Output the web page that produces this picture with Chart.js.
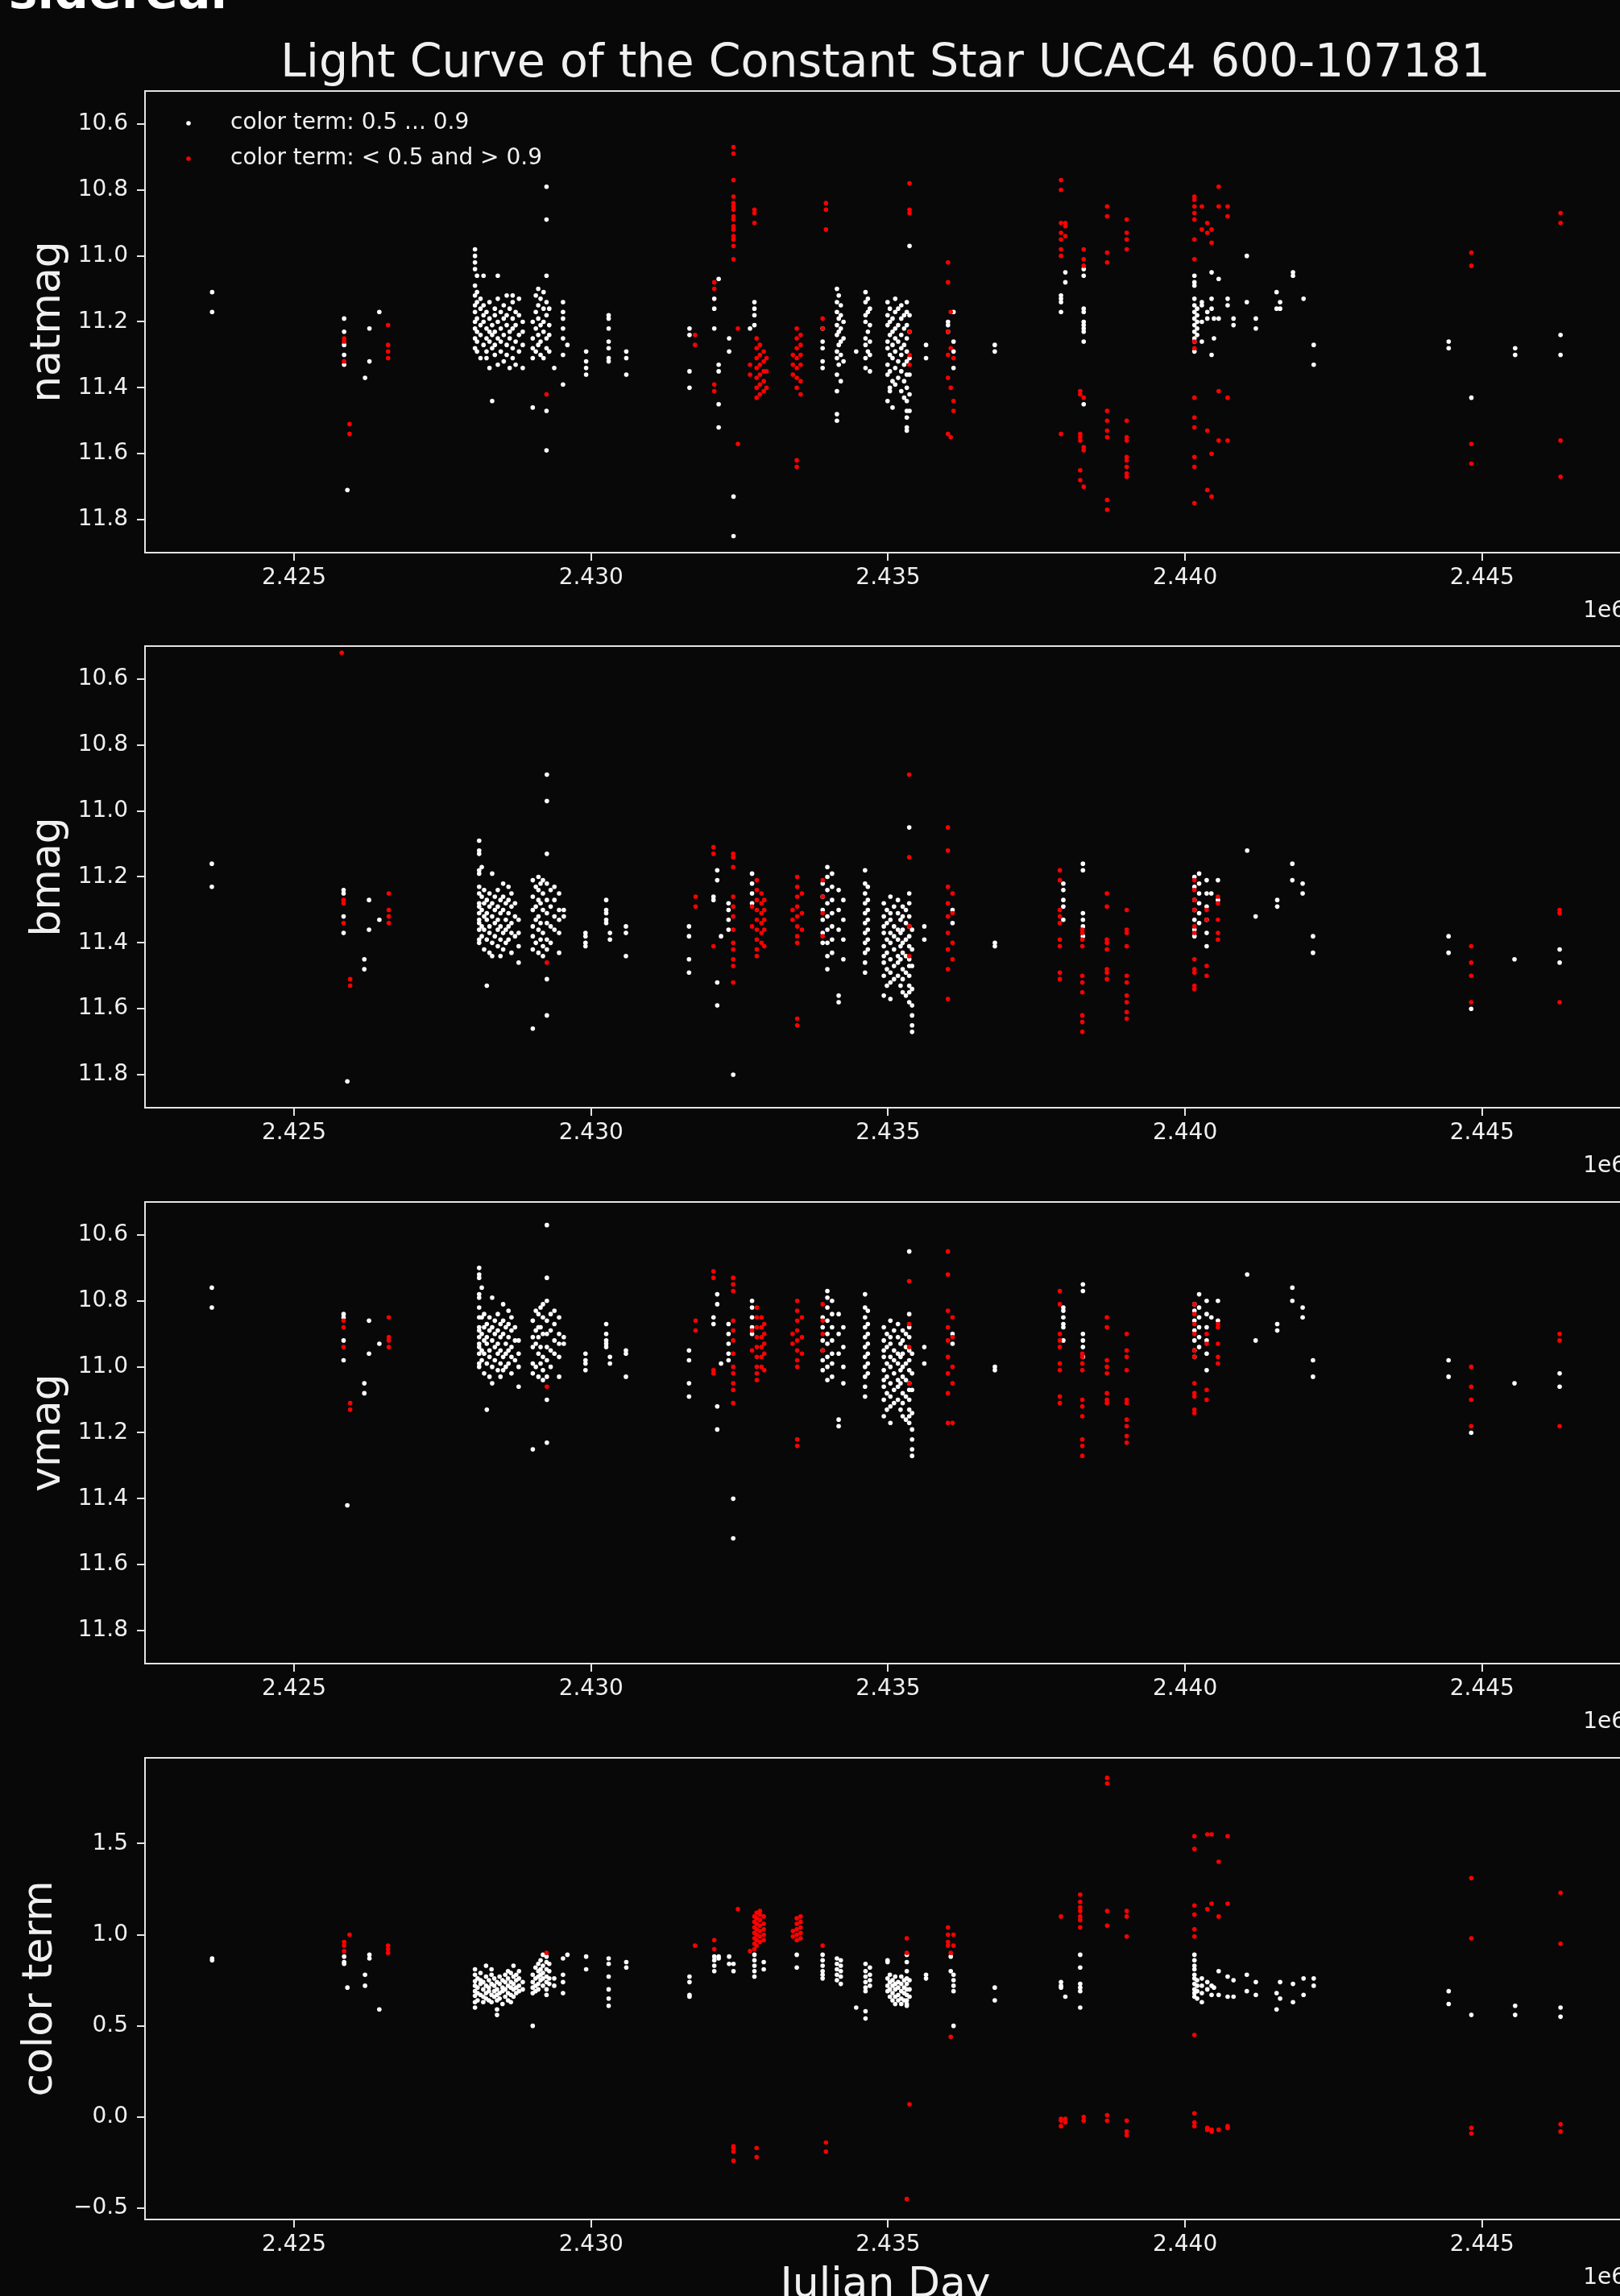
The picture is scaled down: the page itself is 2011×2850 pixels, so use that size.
<!DOCTYPE html>
<html>
<head>
<meta charset="utf-8">
<title>Light Curve of the Constant Star UCAC4 600-107181</title>
<script src="https://cdn.jsdelivr.net/npm/chart.js@4.4.1/dist/chart.umd.min.js"></script>
<style>
  html, body { margin: 0; padding: 0; background: #080808; overflow: hidden; }
  body { width: 2011px; height: 2850px; position: relative; }
  canvas { position: absolute; left: 0; }
</style>
</head>
<body>
<canvas id="natmagChart" width="2040" height="796" style="top:0px"></canvas>
<canvas id="bmagChart" width="2040" height="723" style="top:762px"></canvas>
<canvas id="vmagChart" width="2040" height="723" style="top:1452px"></canvas>
<canvas id="colorChart" width="2040" height="723" style="top:2142px"></canvas>
<script>
// axis limits and ticks
const jdMin = 2422491, jdMax = 2447416;
const jdTicks = [2425000, 2430000, 2435000, 2440000, 2445000];
const magTicks = [10.6, 10.8, 11.0, 11.2, 11.4, 11.6, 11.8];
const colorTicks = [-0.5, 0.0, 0.5, 1.0, 1.5];

// every entry: [julian day, [values seen around that date]]
const natmagWhite = [
  [2423621, [11.11, 11.17]],
  [2425843, [11.19, 11.23, 11.27, 11.30, 11.33]],
  [2425898, [11.71]],
  [2426195, [11.37]],
  [2426269, [11.22, 11.32]],
  [2426435, [11.17]],
  [2428046, [10.98, 11.00, 11.02, 11.04, 11.09, 11.12, 11.15, 11.17, 11.20, 11.22, 11.25, 11.28]],
  [2428080, [11.06, 11.11, 11.14, 11.19, 11.23, 11.26, 11.29]],
  [2428139, [11.13, 11.16, 11.21, 11.24, 11.31]],
  [2428190, [11.06, 11.15, 11.18, 11.20, 11.27]],
  [2428240, [11.17, 11.22, 11.25, 11.29, 11.31]],
  [2428290, [11.14, 11.19, 11.23, 11.26, 11.34]],
  [2428335, [11.21, 11.24, 11.28, 11.44]],
  [2428380, [11.16, 11.18, 11.23, 11.27, 11.30]],
  [2428430, [11.06, 11.13, 11.20, 11.25, 11.33]],
  [2428480, [11.17, 11.22, 11.26, 11.29]],
  [2428530, [11.15, 11.19, 11.24, 11.32]],
  [2428580, [11.12, 11.18, 11.21, 11.27, 11.30]],
  [2428630, [11.16, 11.23, 11.25, 11.34]],
  [2428680, [11.12, 11.14, 11.19, 11.22, 11.28, 11.31]],
  [2428730, [11.17, 11.21, 11.26, 11.33]],
  [2428787, [11.13, 11.18, 11.24, 11.29]],
  [2428850, [11.20, 11.23, 11.27, 11.34]],
  [2429018, [11.20, 11.25, 11.28, 11.31, 11.46]],
  [2429070, [11.12, 11.17, 11.22, 11.29]],
  [2429111, [11.10, 11.15, 11.19, 11.24, 11.27]],
  [2429150, [11.13, 11.21, 11.26, 11.30]],
  [2429200, [11.11, 11.16, 11.20, 11.23, 11.31]],
  [2429250, [10.79, 10.89, 11.06, 11.14, 11.18, 11.25, 11.28, 11.47, 11.59]],
  [2429296, [11.16, 11.21, 11.24, 11.29]],
  [2429380, [11.34]],
  [2429528, [11.14, 11.17, 11.19, 11.22, 11.25, 11.30, 11.39]],
  [2429602, [11.27]],
  [2429917, [11.29, 11.32, 11.34, 11.36]],
  [2430296, [11.18, 11.19, 11.22, 11.26, 11.28, 11.31, 11.32]],
  [2430593, [11.29, 11.31, 11.36]],
  [2431657, [11.22, 11.24, 11.35, 11.40]],
  [2432074, [11.13, 11.16, 11.22]],
  [2432148, [11.07, 11.33, 11.35, 11.45, 11.52]],
  [2432324, [11.25, 11.29]],
  [2432398, [11.73, 11.85]],
  [2432676, [11.22]],
  [2432750, [11.14, 11.16, 11.18, 11.21]],
  [2433898, [11.22, 11.26, 11.28, 11.32, 11.34]],
  [2434139, [11.10, 11.14, 11.17, 11.21, 11.24, 11.29, 11.31, 11.36, 11.41, 11.48, 11.50]],
  [2434170, [11.12, 11.19, 11.23, 11.27, 11.33]],
  [2434204, [11.15, 11.18, 11.22, 11.26, 11.30, 11.38]],
  [2434250, [11.20, 11.25, 11.32]],
  [2434463, [11.29]],
  [2434620, [11.11, 11.14, 11.18, 11.20, 11.25, 11.27, 11.31, 11.34]],
  [2434660, [11.13, 11.17, 11.23, 11.29]],
  [2434694, [11.16, 11.21, 11.26, 11.30, 11.35]],
  [2434991, [11.14, 11.18, 11.21, 11.26, 11.28, 11.33, 11.36, 11.44]],
  [2435030, [11.16, 11.20, 11.24, 11.30, 11.35, 11.40, 11.41]],
  [2435075, [11.19, 11.23, 11.27, 11.31, 11.38, 11.46]],
  [2435120, [11.13, 11.17, 11.22, 11.25, 11.29, 11.34, 11.39]],
  [2435170, [11.16, 11.21, 11.26, 11.32, 11.37]],
  [2435222, [11.15, 11.19, 11.24, 11.28, 11.30, 11.35, 11.41]],
  [2435270, [11.18, 11.22, 11.27, 11.33, 11.38, 11.43]],
  [2435315, [11.14, 11.17, 11.21, 11.25, 11.29, 11.32, 11.36, 11.40, 11.44, 11.47, 11.49, 11.52, 11.53]],
  [2435361, [10.97, 11.18, 11.23, 11.31, 11.36, 11.42, 11.47]],
  [2435639, [11.27, 11.31]],
  [2436009, [11.20, 11.21, 11.23]],
  [2436102, [11.17, 11.26, 11.29, 11.34]],
  [2436796, [11.27, 11.29]],
  [2437911, [11.12, 11.13, 11.14, 11.17]],
  [2437984, [11.05, 11.08]],
  [2438293, [11.04, 11.06, 11.16, 11.17, 11.20, 11.21, 11.22, 11.23, 11.26, 11.45]],
  [2440157, [11.06, 11.08, 11.09, 11.13, 11.15, 11.17, 11.19, 11.21, 11.23, 11.25, 11.26, 11.29]],
  [2440203, [11.16, 11.18, 11.20, 11.22, 11.24]],
  [2440282, [11.14, 11.15, 11.20, 11.26]],
  [2440374, [11.17, 11.19]],
  [2440446, [11.05, 11.13, 11.16, 11.30]],
  [2440486, [11.19, 11.25]],
  [2440565, [11.07, 11.19]],
  [2440716, [11.13, 11.15]],
  [2440815, [11.19, 11.21]],
  [2441039, [11.00, 11.14]],
  [2441191, [11.19, 11.22]],
  [2441540, [11.11, 11.16]],
  [2441599, [11.14, 11.16]],
  [2441816, [11.05, 11.06]],
  [2441994, [11.13]],
  [2442165, [11.27, 11.33]],
  [2444437, [11.26, 11.28]],
  [2444819, [11.43]],
  [2445556, [11.28, 11.30]],
  [2446320, [11.24, 11.30]]
];

const natmagRed = [
  [2425802, [10.49]],
  [2425843, [11.25, 11.26, 11.32]],
  [2425935, [11.51, 11.54]],
  [2426583, [11.21, 11.27, 11.29, 11.31]],
  [2429250, [11.42]],
  [2431750, [11.24, 11.27]],
  [2432074, [11.08, 11.10, 11.39, 11.41]],
  [2432398, [10.67, 10.69, 10.77, 10.82, 10.84, 10.85, 10.86, 10.88, 10.89, 10.91, 10.92, 10.94, 10.95, 10.97, 11.01]],
  [2432472, [11.22, 11.57]],
  [2432676, [11.33, 11.36]],
  [2432750, [10.86, 10.87, 10.90]],
  [2432787, [11.25, 11.28, 11.31, 11.34, 11.37, 11.40, 11.43]],
  [2432843, [11.27, 11.30, 11.33, 11.36, 11.39, 11.42]],
  [2432907, [11.29, 11.32, 11.35, 11.38, 11.41]],
  [2432954, [11.31, 11.35, 11.40]],
  [2433398, [11.30, 11.33, 11.36]],
  [2433463, [11.22, 11.25, 11.28, 11.31, 11.34, 11.37, 11.40, 11.62, 11.64]],
  [2433528, [11.24, 11.27, 11.30, 11.33, 11.38, 11.42]],
  [2433898, [11.19, 11.22]],
  [2433954, [10.84, 10.86, 10.92]],
  [2435361, [10.78, 10.86, 10.87, 11.23, 11.30, 11.33]],
  [2436009, [11.02, 11.08, 11.23, 11.30, 11.37, 11.54]],
  [2436055, [11.17, 11.28, 11.40, 11.55]],
  [2436102, [11.31, 11.44, 11.47]],
  [2437911, [10.77, 10.80, 10.90, 10.93, 10.95, 10.98, 11.00, 11.54]],
  [2437984, [10.90, 10.91, 10.94]],
  [2438234, [11.41, 11.42, 11.54, 11.55, 11.56, 11.65, 11.68]],
  [2438293, [10.98, 11.01, 11.03, 11.43, 11.58, 11.59, 11.70]],
  [2438688, [10.85, 10.88, 10.99, 11.02, 11.47, 11.50, 11.53, 11.55, 11.74, 11.77]],
  [2439017, [10.89, 10.93, 10.95, 10.98, 11.50, 11.55, 11.56, 11.61, 11.62, 11.64, 11.66, 11.67]],
  [2440157, [10.82, 10.83, 10.85, 10.87, 10.89, 10.95, 11.01, 11.26, 11.28, 11.43, 11.49, 11.52, 11.61, 11.64, 11.75]],
  [2440282, [10.85, 10.92]],
  [2440374, [10.90, 10.93, 11.53, 11.71]],
  [2440446, [10.92, 10.96, 11.60, 11.73]],
  [2440565, [10.79, 10.85, 11.41, 11.56]],
  [2440716, [10.85, 10.88, 11.43, 11.56]],
  [2444819, [10.99, 11.03, 11.57, 11.63]],
  [2446320, [10.87, 10.90, 11.56, 11.67]]
];

const bmagWhite = [
  [2423616, [11.16, 11.23]],
  [2425834, [11.24, 11.25, 11.32, 11.37]],
  [2425897, [11.82]],
  [2426183, [11.45, 11.48]],
  [2426262, [11.27, 11.36]],
  [2426436, [11.33]],
  [2428116, [11.09, 11.12, 11.13, 11.18, 11.19, 11.23, 11.25, 11.28, 11.29, 11.31, 11.33, 11.34, 11.36, 11.39, 11.40]],
  [2428160, [11.17, 11.26, 11.30, 11.35, 11.38]],
  [2428200, [11.24, 11.28, 11.32, 11.36, 11.42]],
  [2428245, [11.27, 11.31, 11.33, 11.39, 11.53]],
  [2428290, [11.25, 11.29, 11.35, 11.37, 11.43]],
  [2428335, [11.19, 11.28, 11.32, 11.40, 11.44]],
  [2428380, [11.26, 11.30, 11.34, 11.38]],
  [2428430, [11.24, 11.29, 11.33, 11.36, 11.41]],
  [2428475, [11.27, 11.31, 11.35, 11.39, 11.44]],
  [2428520, [11.22, 11.26, 11.30, 11.37, 11.42]],
  [2428565, [11.28, 11.33, 11.36, 11.40]],
  [2428610, [11.23, 11.27, 11.31, 11.35, 11.39]],
  [2428660, [11.25, 11.29, 11.34, 11.37, 11.43]],
  [2428720, [11.28, 11.32, 11.38]],
  [2428781, [11.33, 11.37, 11.41, 11.46]],
  [2429019, [11.21, 11.26, 11.30, 11.35, 11.38, 11.42, 11.66]],
  [2429070, [11.23, 11.29, 11.33, 11.40]],
  [2429114, [11.20, 11.24, 11.27, 11.32, 11.36, 11.43]],
  [2429150, [11.22, 11.28, 11.34, 11.39]],
  [2429190, [11.21, 11.25, 11.30, 11.37, 11.41, 11.44]],
  [2429256, [10.89, 10.97, 11.13, 11.22, 11.27, 11.31, 11.34, 11.39, 11.42, 11.51, 11.62]],
  [2429320, [11.24, 11.29, 11.35, 11.40]],
  [2429383, [11.23, 11.27, 11.32, 11.36]],
  [2429462, [11.25, 11.30, 11.33, 11.37, 11.43]],
  [2429541, [11.30, 11.32]],
  [2429906, [11.37, 11.38, 11.40, 11.41]],
  [2430255, [11.27, 11.30, 11.31, 11.33, 11.34]],
  [2430318, [11.37, 11.39]],
  [2430587, [11.35, 11.37, 11.44]],
  [2431649, [11.35, 11.38, 11.45, 11.49]],
  [2432061, [11.26, 11.27]],
  [2432124, [11.18, 11.21, 11.52, 11.59]],
  [2432188, [11.38]],
  [2432314, [11.28, 11.30, 11.33, 11.36]],
  [2432393, [11.80]],
  [2432710, [11.19, 11.22, 11.25, 11.28]],
  [2433899, [11.22, 11.26, 11.30, 11.33, 11.37, 11.40]],
  [2433978, [11.17, 11.20, 11.24, 11.28, 11.32, 11.36, 11.40, 11.44, 11.48]],
  [2434057, [11.19, 11.23, 11.27, 11.31, 11.35, 11.39, 11.43]],
  [2434168, [11.24, 11.30, 11.36, 11.56, 11.58]],
  [2434247, [11.27, 11.33, 11.39, 11.45]],
  [2434612, [11.18, 11.22, 11.25, 11.28, 11.31, 11.34, 11.37, 11.40, 11.43, 11.46, 11.49]],
  [2434659, [11.23, 11.27, 11.30, 11.33, 11.36, 11.39, 11.42]],
  [2434928, [11.28, 11.32, 11.35, 11.37, 11.41, 11.44, 11.46, 11.50, 11.56]],
  [2434980, [11.30, 11.34, 11.39, 11.43, 11.48, 11.53]],
  [2435039, [11.26, 11.31, 11.33, 11.37, 11.40, 11.45, 11.49, 11.52, 11.57]],
  [2435100, [11.29, 11.35, 11.38, 11.42, 11.47, 11.51]],
  [2435166, [11.27, 11.31, 11.36, 11.39, 11.44, 11.46, 11.50]],
  [2435210, [11.33, 11.37, 11.41, 11.45, 11.53]],
  [2435246, [11.29, 11.32, 11.36, 11.40, 11.43, 11.48, 11.51, 11.55]],
  [2435300, [11.30, 11.34, 11.39, 11.44, 11.49, 11.56]],
  [2435356, [11.05, 11.25, 11.28, 11.32, 11.35, 11.38, 11.41, 11.45, 11.47, 11.50, 11.53, 11.55, 11.58]],
  [2435404, [11.36, 11.42, 11.47, 11.54, 11.59, 11.62, 11.65, 11.67]],
  [2435610, [11.35, 11.39]],
  [2436085, [11.30, 11.34]],
  [2436798, [11.40, 11.41]],
  [2437950, [11.22, 11.24, 11.27, 11.29, 11.33]],
  [2438280, [11.16, 11.18, 11.31, 11.33, 11.35, 11.38]],
  [2440157, [11.20, 11.23, 11.27, 11.30, 11.33, 11.36, 11.38]],
  [2440236, [11.19, 11.22, 11.25, 11.28, 11.31, 11.34]],
  [2440363, [11.21, 11.25, 11.29, 11.33, 11.37, 11.41]],
  [2440442, [11.25]],
  [2440553, [11.21, 11.27]],
  [2441045, [11.12]],
  [2441187, [11.32]],
  [2441551, [11.27, 11.29]],
  [2441805, [11.16, 11.21]],
  [2441979, [11.22, 11.25]],
  [2442153, [11.38, 11.43]],
  [2444435, [11.38, 11.43]],
  [2444816, [11.60]],
  [2445545, [11.45]],
  [2446305, [11.42, 11.46]]
];

const bmagRed = [
  [2425802, [10.52]],
  [2425834, [11.27, 11.28, 11.34]],
  [2425945, [11.51, 11.53]],
  [2426595, [11.25, 11.30, 11.32, 11.34]],
  [2429256, [11.46]],
  [2431760, [11.26, 11.29]],
  [2432061, [11.11, 11.13, 11.41]],
  [2432393, [11.13, 11.14, 11.17, 11.26, 11.29, 11.32, 11.36, 11.40, 11.42, 11.45, 11.47, 11.52]],
  [2432710, [11.29, 11.35]],
  [2432790, [11.21, 11.24, 11.27, 11.30, 11.33, 11.36, 11.39, 11.42, 11.44]],
  [2432869, [11.25, 11.28, 11.31, 11.34, 11.37, 11.40]],
  [2432916, [11.27, 11.30, 11.33, 11.36, 11.41]],
  [2433392, [11.30, 11.33]],
  [2433471, [11.20, 11.23, 11.26, 11.29, 11.32, 11.35, 11.38, 11.40, 11.63, 11.65]],
  [2433550, [11.25, 11.31, 11.36]],
  [2433899, [11.21, 11.26, 11.31, 11.38]],
  [2435356, [10.89, 11.14, 11.35, 11.44]],
  [2436007, [11.05, 11.12, 11.23, 11.28, 11.32, 11.37, 11.42, 11.48, 11.57]],
  [2436085, [11.25, 11.31, 11.40, 11.45]],
  [2437891, [11.18, 11.21, 11.30, 11.32, 11.34, 11.39, 11.41, 11.49, 11.51]],
  [2438270, [11.36, 11.37, 11.39, 11.41, 11.50, 11.52, 11.55, 11.62, 11.64, 11.67]],
  [2438684, [11.25, 11.29, 11.39, 11.40, 11.42, 11.48, 11.49, 11.51]],
  [2439017, [11.30, 11.36, 11.37, 11.41, 11.50, 11.52, 11.56, 11.58, 11.61, 11.63]],
  [2440157, [11.21, 11.24, 11.27, 11.30, 11.35, 11.37, 11.45, 11.48, 11.49, 11.53, 11.54]],
  [2440363, [11.30, 11.33, 11.47, 11.50]],
  [2440553, [11.26, 11.28, 11.33, 11.37, 11.39]],
  [2444816, [11.41, 11.46, 11.50, 11.58]],
  [2446305, [11.30, 11.31, 11.58]]
];

const vmagWhite = [
  [2423616, [10.76, 10.82]],
  [2425834, [10.84, 10.85, 10.92, 10.98]],
  [2425897, [11.42]],
  [2426183, [11.05, 11.08]],
  [2426262, [10.86, 10.96]],
  [2426436, [10.93]],
  [2428116, [10.70, 10.72, 10.73, 10.78, 10.79, 10.82, 10.85, 10.88, 10.89, 10.91, 10.93, 10.94, 10.96, 10.99, 11.00]],
  [2428160, [10.76, 10.85, 10.90, 10.95, 10.98]],
  [2428200, [10.84, 10.88, 10.92, 10.96, 11.02]],
  [2428245, [10.87, 10.91, 10.93, 10.99, 11.13]],
  [2428290, [10.85, 10.89, 10.95, 10.97, 11.03]],
  [2428335, [10.79, 10.88, 10.92, 11.00, 11.05]],
  [2428380, [10.86, 10.90, 10.94, 10.98]],
  [2428430, [10.84, 10.89, 10.93, 10.96, 11.01]],
  [2428475, [10.87, 10.91, 10.95, 10.99, 11.03]],
  [2428520, [10.81, 10.86, 10.90, 10.97, 11.01]],
  [2428565, [10.88, 10.93, 10.96, 11.00]],
  [2428610, [10.83, 10.87, 10.91, 10.95, 10.99]],
  [2428660, [10.85, 10.89, 10.94, 10.97, 11.02]],
  [2428720, [10.88, 10.92, 10.98]],
  [2428781, [10.92, 10.96, 11.00, 11.06]],
  [2429019, [10.86, 10.91, 10.94, 10.99, 11.02, 11.25]],
  [2429070, [10.83, 10.89, 10.93, 11.00]],
  [2429114, [10.84, 10.88, 10.91, 10.96, 11.03]],
  [2429150, [10.82, 10.88, 10.94, 10.99]],
  [2429190, [10.81, 10.85, 10.90, 10.97, 11.01, 11.04]],
  [2429256, [10.57, 10.73, 10.80, 10.86, 10.90, 10.94, 10.98, 11.03, 11.10, 11.23]],
  [2429320, [10.84, 10.89, 10.95, 11.00]],
  [2429383, [10.83, 10.87, 10.92, 10.96]],
  [2429462, [10.85, 10.90, 10.93, 10.97, 11.03]],
  [2429541, [10.91, 10.93]],
  [2429906, [10.96, 10.98, 10.99, 11.01]],
  [2430255, [10.87, 10.90, 10.92, 10.93, 10.94]],
  [2430318, [10.97, 10.99]],
  [2430587, [10.95, 10.96, 11.03]],
  [2431649, [10.95, 10.98, 11.05, 11.09]],
  [2432061, [10.85, 10.87]],
  [2432124, [10.78, 10.81, 11.12, 11.19]],
  [2432188, [10.99]],
  [2432314, [10.87, 10.90, 10.93, 10.96, 10.98]],
  [2432393, [11.40, 11.52]],
  [2432710, [10.80, 10.82, 10.85, 10.88, 10.90]],
  [2433899, [10.85, 10.88, 10.92, 10.95, 10.98, 11.01]],
  [2433978, [10.77, 10.79, 10.82, 10.86, 10.90, 10.93, 10.97, 11.00, 11.04]],
  [2434057, [10.80, 10.84, 10.88, 10.92, 10.96, 10.99, 11.03]],
  [2434168, [10.84, 10.90, 10.96, 11.16, 11.18]],
  [2434247, [10.88, 10.94, 11.00, 11.05]],
  [2434612, [10.78, 10.82, 10.85, 10.88, 10.91, 10.94, 10.97, 11.00, 11.03, 11.06, 11.09]],
  [2434659, [10.83, 10.87, 10.90, 10.93, 10.96, 10.99, 11.02]],
  [2434928, [10.88, 10.92, 10.95, 10.97, 11.01, 11.04, 11.06, 11.10, 11.15]],
  [2434980, [10.90, 10.94, 10.99, 11.03, 11.08, 11.13]],
  [2435039, [10.86, 10.91, 10.93, 10.97, 11.00, 11.05, 11.09, 11.12, 11.17]],
  [2435100, [10.89, 10.95, 10.98, 11.02, 11.07, 11.11]],
  [2435166, [10.87, 10.91, 10.96, 10.99, 11.04, 11.06, 11.10]],
  [2435210, [10.93, 10.97, 11.01, 11.05, 11.13]],
  [2435246, [10.89, 10.92, 10.96, 11.00, 11.03, 11.08, 11.11, 11.15]],
  [2435300, [10.90, 10.94, 10.99, 11.04, 11.09, 11.16]],
  [2435356, [10.65, 10.84, 10.88, 10.91, 10.95, 10.98, 11.01, 11.05, 11.07, 11.10, 11.13, 11.15, 11.17]],
  [2435404, [10.96, 11.02, 11.07, 11.14, 11.19, 11.22, 11.25, 11.27]],
  [2435610, [10.94, 10.99]],
  [2436085, [10.90, 10.93]],
  [2436798, [11.00, 11.01]],
  [2437950, [10.82, 10.83, 10.85, 10.87, 10.88, 10.92]],
  [2438280, [10.75, 10.77, 10.90, 10.92, 10.94, 10.97]],
  [2440157, [10.81, 10.83, 10.86, 10.89, 10.92, 10.95, 10.97]],
  [2440236, [10.78, 10.82, 10.85, 10.88, 10.91, 10.94]],
  [2440363, [10.80, 10.84, 10.88, 10.92, 10.96, 11.01]],
  [2440442, [10.85]],
  [2440553, [10.80, 10.86]],
  [2441045, [10.72]],
  [2441187, [10.92]],
  [2441551, [10.87, 10.89]],
  [2441805, [10.76, 10.80]],
  [2441979, [10.82, 10.85]],
  [2442153, [10.98, 11.03]],
  [2444435, [10.98, 11.03]],
  [2444816, [11.20]],
  [2445545, [11.05]],
  [2446305, [11.02, 11.06]]
];

const vmagRed = [
  [2425834, [10.86, 10.88, 10.94]],
  [2425945, [11.11, 11.13]],
  [2426595, [10.85, 10.91, 10.92, 10.94]],
  [2429256, [11.06]],
  [2431760, [10.86, 10.89]],
  [2432061, [10.71, 10.73, 11.01, 11.02]],
  [2432393, [10.73, 10.75, 10.77, 10.86, 10.89, 10.92, 10.96, 11.00, 11.02, 11.05, 11.07, 11.11]],
  [2432710, [10.89, 10.95]],
  [2432790, [10.82, 10.85, 10.88, 10.91, 10.94, 10.97, 11.00, 11.02, 11.04]],
  [2432869, [10.85, 10.88, 10.91, 10.94, 10.97, 11.00]],
  [2432916, [10.87, 10.90, 10.93, 10.96, 11.01]],
  [2433392, [10.90, 10.93]],
  [2433471, [10.80, 10.83, 10.86, 10.89, 10.92, 10.95, 10.98, 11.00, 11.22, 11.24]],
  [2433550, [10.85, 10.91, 10.96]],
  [2433899, [10.81, 10.86, 10.90, 10.95]],
  [2435356, [10.74, 10.87, 10.94, 11.05]],
  [2436007, [10.65, 10.72, 10.83, 10.88, 10.92, 10.97, 11.02, 11.08, 11.17]],
  [2436085, [10.85, 10.91, 11.00, 11.05, 11.17]],
  [2437891, [10.77, 10.81, 10.90, 10.92, 10.94, 10.99, 11.01, 11.09, 11.11]],
  [2438270, [10.96, 10.97, 10.99, 11.01, 11.10, 11.12, 11.15, 11.22, 11.24, 11.27]],
  [2438684, [10.85, 10.88, 10.98, 11.00, 11.02, 11.08, 11.10, 11.11]],
  [2439017, [10.90, 10.95, 10.97, 11.01, 11.10, 11.11, 11.16, 11.18, 11.21, 11.23]],
  [2440157, [10.81, 10.84, 10.87, 10.90, 10.95, 10.97, 11.05, 11.08, 11.09, 11.13, 11.14]],
  [2440363, [10.90, 10.93, 11.07, 11.10]],
  [2440553, [10.87, 10.88, 10.93, 10.97, 10.99]],
  [2444816, [11.00, 11.06, 11.10, 11.18]],
  [2446305, [10.90, 10.92, 11.18]]
];

const colorWhite = [
  [2423621, [0.87, 0.86]],
  [2425843, [0.88, 0.85, 0.84]],
  [2425898, [0.71]],
  [2426195, [0.78, 0.72]],
  [2426269, [0.89, 0.87]],
  [2426435, [0.59]],
  [2428046, [0.81, 0.78, 0.745, 0.72, 0.69, 0.665, 0.63, 0.60]],
  [2428090, [0.76, 0.71, 0.68, 0.64]],
  [2428139, [0.79, 0.75, 0.73, 0.67]],
  [2428185, [0.74, 0.70, 0.66, 0.63]],
  [2428232, [0.83, 0.77, 0.72, 0.68, 0.65]],
  [2428280, [0.75, 0.71, 0.69, 0.64]],
  [2428324, [0.81, 0.78, 0.73, 0.67, 0.63]],
  [2428370, [0.76, 0.72, 0.69, 0.66]],
  [2428417, [0.74, 0.70, 0.67, 0.64, 0.59, 0.56]],
  [2428460, [0.77, 0.73, 0.68, 0.65]],
  [2428509, [0.75, 0.71, 0.69, 0.62]],
  [2428555, [0.78, 0.74, 0.70, 0.66]],
  [2428602, [0.80, 0.76, 0.72, 0.68, 0.64]],
  [2428650, [0.79, 0.74, 0.71, 0.67, 0.63]],
  [2428694, [0.83, 0.77, 0.73, 0.70, 0.66]],
  [2428740, [0.78, 0.75, 0.71, 0.68]],
  [2428787, [0.80, 0.76, 0.72, 0.69]],
  [2428850, [0.74, 0.70]],
  [2429018, [0.78, 0.74, 0.71, 0.68, 0.50]],
  [2429065, [0.82, 0.76, 0.72, 0.69]],
  [2429111, [0.84, 0.80, 0.77, 0.73, 0.70]],
  [2429150, [0.86, 0.81, 0.78, 0.75]],
  [2429190, [0.89, 0.83, 0.79, 0.76, 0.72]],
  [2429250, [0.88, 0.85, 0.81, 0.77, 0.74, 0.70, 0.67]],
  [2429296, [0.84, 0.80, 0.76, 0.73]],
  [2429380, [0.76, 0.72]],
  [2429528, [0.87, 0.78, 0.74, 0.68]],
  [2429602, [0.89]],
  [2429917, [0.88, 0.81]],
  [2430296, [0.87, 0.84, 0.77, 0.70, 0.65, 0.61]],
  [2430593, [0.85, 0.82]],
  [2431657, [0.77, 0.74, 0.67, 0.66]],
  [2432074, [0.88, 0.86, 0.83, 0.80]],
  [2432148, [0.88, 0.87]],
  [2432324, [0.88, 0.84]],
  [2432398, [0.84, 0.80]],
  [2432750, [0.89, 0.86, 0.83, 0.80, 0.77]],
  [2432907, [0.85, 0.81]],
  [2433463, [0.89, 0.82]],
  [2433898, [0.89, 0.86, 0.83, 0.80, 0.78, 0.76]],
  [2434139, [0.87, 0.84, 0.81, 0.78, 0.75]],
  [2434204, [0.86, 0.83, 0.80, 0.77, 0.73]],
  [2434463, [0.60]],
  [2434620, [0.84, 0.80, 0.77, 0.74, 0.71, 0.69, 0.58, 0.54]],
  [2434694, [0.82, 0.78, 0.75, 0.72]],
  [2434991, [0.86, 0.85, 0.76, 0.72, 0.69]],
  [2435030, [0.78, 0.74, 0.70, 0.66]],
  [2435075, [0.75, 0.72, 0.68, 0.64]],
  [2435120, [0.77, 0.73, 0.70, 0.66, 0.62]],
  [2435170, [0.74, 0.71, 0.67, 0.64]],
  [2435222, [0.77, 0.73, 0.69, 0.65, 0.62]],
  [2435270, [0.75, 0.71, 0.68, 0.64]],
  [2435315, [0.89, 0.85, 0.80, 0.76, 0.73, 0.70, 0.67, 0.64, 0.62, 0.61]],
  [2435361, [0.75, 0.70, 0.66]],
  [2435639, [0.78, 0.76]],
  [2436055, [0.88, 0.80]],
  [2436102, [0.78, 0.75, 0.72, 0.69, 0.50]],
  [2436796, [0.71, 0.64]],
  [2437911, [0.74, 0.72, 0.71]],
  [2437984, [0.66]],
  [2438234, [0.89, 0.82, 0.73, 0.71, 0.69, 0.60]],
  [2440157, [0.89, 0.86, 0.83, 0.81, 0.78, 0.76, 0.73, 0.70, 0.68, 0.66]],
  [2440203, [0.75, 0.72, 0.69, 0.65]],
  [2440282, [0.76, 0.72, 0.68, 0.63]],
  [2440374, [0.74, 0.70]],
  [2440446, [0.72, 0.67]],
  [2440486, [0.71]],
  [2440565, [0.80, 0.67]],
  [2440716, [0.77, 0.66]],
  [2440815, [0.75, 0.66]],
  [2441039, [0.78, 0.69]],
  [2441191, [0.74, 0.67]],
  [2441540, [0.68, 0.59]],
  [2441599, [0.74, 0.65]],
  [2441816, [0.73, 0.63]],
  [2441994, [0.76, 0.67]],
  [2442165, [0.76, 0.72]],
  [2444437, [0.69, 0.62]],
  [2444819, [0.56]],
  [2445556, [0.61, 0.56]],
  [2446320, [0.60, 0.55]]
];

const colorRed = [
  [2425843, [0.96, 0.94, 0.91]],
  [2425935, [1.00]],
  [2426583, [0.94, 0.92, 0.90]],
  [2429250, [0.90]],
  [2431750, [0.94]],
  [2432074, [0.97, 0.92]],
  [2432398, [-0.16, -0.17, -0.19, -0.24]],
  [2432472, [1.14]],
  [2432676, [0.91]],
  [2432750, [1.10, 1.07, 1.04, 1.01, 0.98, 0.95, 0.92]],
  [2432787, [1.12, 1.09, 1.06, 1.03, 1.00, 0.97, 0.94, -0.17, -0.22]],
  [2432843, [1.13, 1.11, 1.08, 1.05, 1.02, 0.99, 0.96]],
  [2432907, [1.10, 1.06, 1.03, 1.00, 0.97]],
  [2433398, [1.02, 0.99]],
  [2433463, [1.09, 1.06, 1.03, 1.00, 0.97]],
  [2433528, [1.10, 1.07, 1.04, 1.01, 0.98]],
  [2433898, [0.94]],
  [2433954, [-0.14, -0.19]],
  [2435315, [0.98, 0.90, -0.45]],
  [2435361, [0.07]],
  [2436009, [1.04, 1.00, 0.96, 0.94]],
  [2436055, [0.90, 0.44]],
  [2436102, [1.00, 0.94]],
  [2437911, [1.10, -0.01, -0.02, -0.05]],
  [2437984, [-0.01, -0.03]],
  [2438234, [1.22, 1.18, 1.15, 1.13, 1.10, 1.08, 1.04]],
  [2438293, [0.00, -0.02]],
  [2438688, [1.86, 1.83, 1.13, 1.05, 0.01, -0.02]],
  [2439017, [1.13, 1.10, 0.99, -0.02, -0.08, -0.10]],
  [2440157, [1.54, 1.47, 1.16, 1.11, 1.03, 0.99, 0.45, 0.02, -0.03, -0.05]],
  [2440374, [1.55, 1.14, -0.06, -0.07]],
  [2440446, [1.55, 1.17, -0.07, -0.08]],
  [2440565, [1.40, 1.10, -0.07]],
  [2440716, [1.54, 1.17, -0.05, -0.06]],
  [2444819, [1.31, 0.98, -0.06, -0.09]],
  [2446320, [1.23, 0.95, -0.04, -0.08]]
];

const AXIS_COLOR = '#e4e4e4';
const TEXT_COLOR = '#f0f0f0';
const FONT = '"DejaVu Sans", sans-serif';

function toPoints(cols) {
  const pts = [];
  cols.forEach(c => c[1].forEach(v => pts.push({ x: c[0], y: v })));
  return pts;
}

// frame, offset text, title and legend drawn like matplotlib
const decorPlugin = {
  id: 'decor',
  afterDraw(chart, args, opts) {
    const { ctx, chartArea: a } = chart;
    ctx.save();
    ctx.strokeStyle = AXIS_COLOR;
    ctx.lineWidth = 2;
    ctx.strokeRect(a.left, a.top, a.right - a.left, a.bottom - a.top);

    ctx.fillStyle = TEXT_COLOR;
    ctx.font = '28px ' + FONT;
    ctx.textAlign = 'right';
    ctx.textBaseline = 'alphabetic';
    ctx.fillText('1e6', a.right, a.bottom + 80);

    if (opts.title) {
      ctx.font = '57px ' + FONT;
      ctx.textAlign = 'center';
      ctx.fillText(opts.title, (a.left + a.right) / 2, a.top - 18);
    }
    if (opts.legend) {
      ctx.font = '28px ' + FONT;
      ctx.textAlign = 'left';
      ctx.textBaseline = 'middle';
      chart.data.datasets.forEach((ds, i) => {
        const y = a.top + 40 + i * 44;
        ctx.fillStyle = ds.pointBackgroundColor;
        ctx.beginPath();
        ctx.arc(a.left + 54, y, 2.8, 0, Math.PI * 2);
        ctx.fill();
        ctx.fillStyle = TEXT_COLOR;
        ctx.fillText(ds.label, a.left + 106, y);
      });
    }
    if (opts.corner) {
      ctx.fillStyle = '#ffffff';
      ctx.font = 'bold 60px ' + FONT;
      ctx.textAlign = 'right';
      ctx.textBaseline = 'alphabetic';
      ctx.fillText(opts.corner, 282, 10);
    }
    ctx.restore();
  }
};

function buildChart(canvasId, cfg) {
  const tickGrid = { drawOnChartArea: false, drawTicks: true, tickLength: 10, color: AXIS_COLOR, lineWidth: 2 };
  return new Chart(document.getElementById(canvasId), {
    type: 'scatter',
    data: {
      datasets: [
        { label: 'color term: 0.5 ... 0.9', data: toPoints(cfg.white), pointBackgroundColor: '#ffffff',
          pointRadius: 2.8, pointHoverRadius: 2.8, pointBorderWidth: 0, order: 2, clip: 0 },
        { label: 'color term: < 0.5 and > 0.9', data: toPoints(cfg.red), pointBackgroundColor: '#ff0000',
          pointRadius: 2.8, pointHoverRadius: 2.8, pointBorderWidth: 0, order: 1, clip: 0 }
      ]
    },
    options: {
      responsive: false,
      animation: false,
      devicePixelRatio: 1,
      events: [],
      layout: { padding: { top: cfg.padTop, right: 22, left: 0, bottom: 0 } },
      plugins: {
        legend: { display: false },
        tooltip: { enabled: false },
        decor: { title: cfg.title, legend: cfg.legend, corner: cfg.corner }
      },
      scales: {
        x: {
          type: 'linear',
          min: jdMin,
          max: jdMax,
          afterBuildTicks: s => { s.ticks = jdTicks.map(v => ({ value: v })); },
          afterFit: s => { s.height = 110; },
          border: { display: false },
          grid: tickGrid,
          ticks: {
            color: TEXT_COLOR, font: { family: FONT, size: 28 }, padding: 5,
            autoSkip: false, maxRotation: 0,
            callback: v => (v / 1e6).toFixed(3)
          },
          title: cfg.xTitle
            ? { display: true, text: cfg.xTitle, color: TEXT_COLOR, font: { family: FONT, size: 52, lineHeight: 1 }, padding: { top: 0, bottom: 2 } }
            : { display: false }
        },
        y: {
          type: 'linear',
          min: cfg.yMin,
          max: cfg.yMax,
          reverse: cfg.reverse,
          afterBuildTicks: s => { s.ticks = cfg.yTicks.map(v => ({ value: v })); },
          afterFit: s => { s.width = 180; },
          border: { display: false },
          grid: tickGrid,
          ticks: {
            color: TEXT_COLOR, font: { family: FONT, size: 28 }, padding: 11,
            autoSkip: false, callback: cfg.yFormat
          },
          title: {
            display: true, text: cfg.yLabel, color: TEXT_COLOR,
            font: { family: FONT, size: 52, lineHeight: 1 },
            padding: { top: cfg.yTitlePad, bottom: 0 }
          }
        }
      }
    },
    plugins: [decorPlugin]
  });
}

const magFormat = v => v.toFixed(1);
const colorFormat = v => (v < 0 ? '\u2212' : '') + Math.abs(v).toFixed(1);

buildChart('natmagChart', {
  white: natmagWhite, red: natmagRed, padTop: 113,
  yMin: 10.5, yMax: 11.9, reverse: true, yTicks: magTicks, yFormat: magFormat,
  yLabel: 'natmag', yTitlePad: 34,
  title: 'Light Curve of the Constant Star UCAC4 600-107181', legend: true, corner: 'sidereal'
});
buildChart('bmagChart', {
  white: bmagWhite, red: bmagRed, padTop: 40,
  yMin: 10.5, yMax: 11.9, reverse: true, yTicks: magTicks, yFormat: magFormat,
  yLabel: 'bmag', yTitlePad: 34
});
buildChart('vmagChart', {
  white: vmagWhite, red: vmagRed, padTop: 40,
  yMin: 10.5, yMax: 11.9, reverse: true, yTicks: magTicks, yFormat: magFormat,
  yLabel: 'vmag', yTitlePad: 34
});
buildChart('colorChart', {
  white: colorWhite, red: colorRed, padTop: 40,
  yMin: -0.562, yMax: 1.97, reverse: false, yTicks: colorTicks, yFormat: colorFormat,
  yLabel: 'color term', yTitlePad: 24, xTitle: 'Julian Day'
});
</script>
</body>
</html>
